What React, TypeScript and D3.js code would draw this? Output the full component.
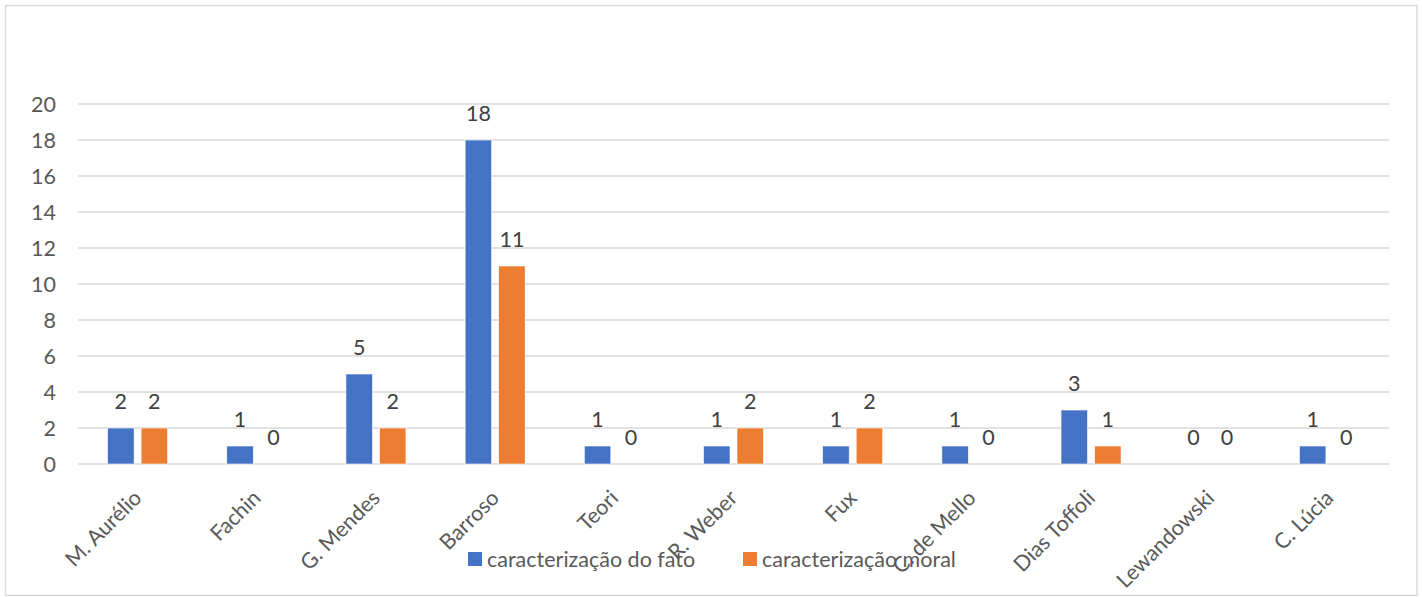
import React from "react";
import * as d3 from "d3";

const categories = [
  "M. Aurélio", "Fachin", "G. Mendes", "Barroso", "Teori", "R. Weber",
  "Fux", "C. de Mello", "Dias Toffoli", "Lewandowski", "C. Lúcia",
];
const seriesNames = ["caracterização do fato", "caracterização moral"];
const fato = [2, 1, 5, 18, 1, 1, 1, 1, 3, 0, 1];
const moral = [2, 0, 2, 11, 0, 2, 2, 0, 1, 0, 0];
const yTicks = [0, 2, 4, 6, 8, 10, 12, 14, 16, 18, 20];
const colors = ["#4472C4", "#ED7D31"];

const W = 1422;
const H = 597;
const FONT = "Lato, 'Open Sans', sans-serif";
const FS = 21.5;

export default function App() {
  const left = 78, right = 1389, top = 104, bottom = 464;
  const x = d3.scaleBand<string>().domain(categories).range([left, right]);
  const inner = d3.scaleBand<number>().domain([0, 1]).range([-30, 30]).paddingInner(0.209);
  const y = d3.scaleLinear().domain([0, 20]).range([bottom, top]);
  const series = [fato, moral];

  return (
    <svg width={W} height={H} style={{ position: "absolute", left: 0, top: 0, background: "#fff" }}
      fontFamily={FONT}>
      <rect x={5.5} y={5.5} width={1411.5} height={590} fill="#fff" stroke="#d9d9d9" strokeWidth={1.5} />
      {yTicks.map((t) => (
        <g key={t}>
          <line x1={left} x2={right} y1={y(t)} y2={y(t)} stroke="#d9d9d9" strokeWidth={1.5} />
          <text x={56} y={y(t)} dy="0.35em" textAnchor="end" fontSize={FS} fill="#595959">{t}</text>
        </g>
      ))}
      {categories.map((c, i) => {
        const cx = x(c)! + x.bandwidth() / 2;
        return (
          <g key={c}>
            {series.map((s, k) => {
              const bx = cx + inner(k)!;
              const v = s[i];
              return (
                <g key={k}>
                  {v > 0 && (
                    <rect x={bx} y={y(v)} width={inner.bandwidth()} height={y(0) - y(v)}
                      fill={colors[k]} stroke="#fff" strokeWidth={0.6} />
                  )}
                  <text x={bx + inner.bandwidth() / 2} y={y(v) - 19} textAnchor="middle"
                    fontSize={FS} fill="#404040">{v}</text>
                </g>
              );
            })}
            <text transform={`translate(${cx},${494}) rotate(-45)`} textAnchor="end" dy="0.35em"
              fontSize={FS} fill="#595959">{c}</text>
          </g>
        );
      })}
      <g>
        <rect x={468} y={552} width={14} height={14} fill={colors[0]} />
        <text x={487} y={559.5} dy="0.35em" fontSize={FS} fill="#595959">{seriesNames[0]}</text>
        <rect x={743} y={552} width={14} height={14} fill={colors[1]} />
        <text x={762} y={559.5} dy="0.35em" fontSize={FS} fill="#595959">{seriesNames[1]}</text>
      </g>
    </svg>
  );
}
